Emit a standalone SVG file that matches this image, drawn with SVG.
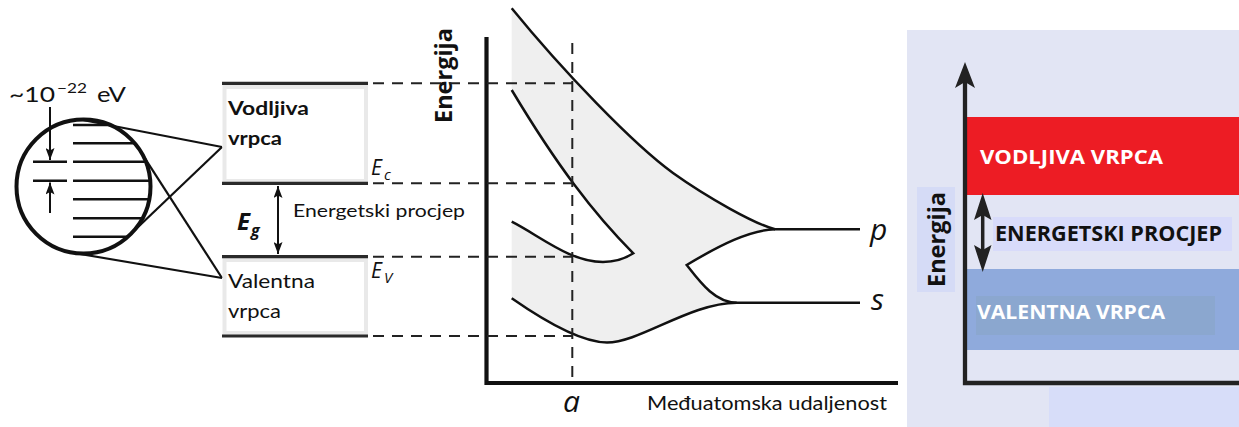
<svg xmlns="http://www.w3.org/2000/svg" width="1239" height="427" viewBox="0 0 1239 427">
<defs>
<style>
.ln{stroke:#111;fill:none;stroke-width:2.5}
.band{stroke:#2a2a2a;stroke-width:3.2}
.box{fill:#fff;stroke:#e9e9e9;stroke-width:4}
.dash{stroke:#222;stroke-width:2;stroke-dasharray:11 8;fill:none}
.cal{font-family:Lato,"Liberation Sans",sans-serif;fill:#111}
.it{font-family:"Open Sans","Liberation Sans",sans-serif;font-style:italic;fill:#111}
.ob{font-family:"Open Sans","Liberation Sans",sans-serif;font-weight:bold}
</style>
<marker id="ah" viewBox="0 0 12 9" refX="12" refY="4.5" markerWidth="12" markerHeight="9" markerUnits="userSpaceOnUse" orient="auto-start-reverse">
<path d="M0,0 L12,4.5 L0,9 L2.5,4.5 z" fill="#111"/>
</marker>
<clipPath id="circ"><circle cx="83.5" cy="186.5" r="66"/></clipPath>
</defs>
<rect width="1239" height="427" fill="#fff"/>

<!-- left magnifier -->
<g id="magnifier">
<text class="cal" x="9" y="102" font-size="21" textLength="46" lengthAdjust="spacingAndGlyphs">~10</text>
<text class="cal" x="57" y="93" font-size="14" textLength="30" lengthAdjust="spacingAndGlyphs">−22</text>
<text class="cal" x="97" y="102" font-size="21" textLength="29" lengthAdjust="spacingAndGlyphs">eV</text>
<g clip-path="url(#circ)" stroke="#111" stroke-width="2.5">
<line x1="73" y1="125" x2="160" y2="125"/>
<line x1="73" y1="143.3" x2="160" y2="143.3"/>
<line x1="73" y1="161.7" x2="160" y2="161.7"/>
<line x1="73" y1="180.7" x2="160" y2="180.7"/>
<line x1="73" y1="199.3" x2="160" y2="199.3"/>
<line x1="73" y1="218.3" x2="160" y2="218.3"/>
<line x1="73" y1="236.7" x2="160" y2="236.7"/>
<line x1="33" y1="161.7" x2="67" y2="161.7"/>
<line x1="33" y1="180.7" x2="67" y2="180.7"/>
</g>
<line x1="50" y1="107" x2="50" y2="160" stroke="#111" stroke-width="2" marker-end="url(#ah)"/>
<line x1="50" y1="213" x2="50" y2="182.5" stroke="#111" stroke-width="2" marker-end="url(#ah)"/>
<circle cx="83.5" cy="186.5" r="67" fill="none" stroke="#111" stroke-width="4"/>
<g stroke="#111" stroke-width="2.2" fill="none">
<line x1="80" y1="119.5" x2="222" y2="147"/>
<line x1="129.7" y1="235" x2="222" y2="147"/>
<line x1="74" y1="253" x2="222" y2="278"/>
<line x1="139.8" y1="150.3" x2="222" y2="278"/>
</g>
</g>

<!-- band diagram -->
<g id="conduction-band">
<rect class="box" x="224.5" y="87" width="141.5" height="94"/>
<line class="band" x1="222" y1="83.3" x2="368" y2="83.3"/>
<text class="cal" x="228" y="115" font-size="19" font-weight="bold" textLength="81" lengthAdjust="spacingAndGlyphs">Vodljiva</text>
<text class="cal" x="228" y="145" font-size="19" font-weight="bold" textLength="54" lengthAdjust="spacingAndGlyphs">vrpca</text>
</g>
<g id="valence-band">
<rect class="box" x="224.5" y="260" width="141.5" height="73"/>
<line class="band" x1="222" y1="256.7" x2="368" y2="256.7"/>
<line class="band" x1="222" y1="336" x2="368" y2="336"/>
<text class="cal" x="228" y="288" font-size="19" textLength="87" lengthAdjust="spacingAndGlyphs">Valentna</text>
<text class="cal" x="228" y="318" font-size="19" textLength="53" lengthAdjust="spacingAndGlyphs">vrpca</text>
</g>
<g id="gap">
<line class="band" x1="222" y1="183.3" x2="368" y2="183.3"/>
<line x1="278" y1="186" x2="278" y2="254" stroke="#111" stroke-width="2" marker-start="url(#ah)" marker-end="url(#ah)"/>
<text class="ob" x="237" y="230" font-size="24" font-style="italic" fill="#111">E</text>
<text class="ob" x="251" y="236" font-size="16" font-style="italic" fill="#111">g</text>
<text class="cal" x="293" y="217" font-size="18" textLength="172" lengthAdjust="spacingAndGlyphs">Energetski procjep</text>
<text class="it" x="371" y="175" font-size="21">E</text>
<text class="it" x="384" y="180" font-size="15">c</text>
<text class="it" x="371" y="278" font-size="21">E</text>
<text class="it" x="384" y="283" font-size="15">V</text>
</g>

<!-- middle graph -->
<g id="graph">
<path d="M511.7,8.3 C562,70 633,144 673,173 C708,198 755,224 775,229.3 C750,230 720,245 686.7,265 C700,282 715,302.7 736.7,302.7 C690,303 640,342.5 607,342.5 C580,342.5 540,318 511.7,298.3 L511.7,221.7 C540,236 570,262 603,262 Q620,262 633.3,253.3 C593.3,213.3 556.7,165 511.7,90 Z" fill="#efefef" stroke="none"/>
<path class="ln" d="M511.7,8.3 C562,70 633,144 673,173 C708,198 755,224 775,229.3 L860,229.3"/>
<path class="ln" d="M775,229.3 C750,230 720,245 686.7,265 C700,282 715,302.7 736.7,302.7 L860,302.7"/>
<path class="ln" d="M736.7,302.7 C690,303 640,342.5 607,342.5 C580,342.5 540,318 511.7,298.3"/>
<path class="ln" d="M511.7,221.7 C540,236 570,262 603,262 Q620,262 633.3,253.3 C593.3,213.3 556.7,165 511.7,90"/>
<path d="M486.5,37 L486.5,383 L898,383" fill="none" stroke="#111" stroke-width="4.2"/>
<text class="ob" transform="translate(451.5,123) rotate(-90)" font-size="23" fill="#111" textLength="95" lengthAdjust="spacingAndGlyphs">Energija</text>
<text class="it" x="563" y="411.5" font-size="30">a</text>
<text class="it" x="870" y="240" font-size="30">p</text>
<text class="it" x="871" y="310" font-size="30">s</text>
<text class="cal" x="647" y="410" font-size="18.5" textLength="240" lengthAdjust="spacingAndGlyphs">Međuatomska udaljenost</text>
</g>

<g id="connectors">
<line class="dash" x1="373" y1="83.3" x2="572.3" y2="83.3"/>
<line class="dash" x1="373" y1="183.3" x2="572.3" y2="183.3"/>
<line class="dash" x1="373" y1="256.7" x2="572.3" y2="256.7"/>
<line class="dash" x1="373" y1="336" x2="572.3" y2="336"/>
<line class="dash" x1="572.3" y1="43" x2="572.3" y2="383"/>
</g>

<!-- right panel -->
<g id="simple-band-diagram">
<rect x="907" y="30" width="332" height="397" fill="#e2e5f4"/>
<rect x="1049" y="387" width="190" height="40" fill="#d7ddf9"/>
<rect x="967" y="117" width="272" height="78" fill="#ed1c24"/>
<rect x="967" y="269" width="272" height="81" fill="#8faadc"/>
<rect x="976" y="296" width="239" height="39" fill="#8ba7cf"/>
<rect x="993" y="217" width="239" height="34" fill="#d8dbfa"/>
<rect x="917" y="187" width="38" height="105" fill="#d5dbf6"/>
<path d="M965,72 L965,383 L1239,383" fill="none" stroke="#222" stroke-width="4.3"/>
<path d="M965,62 L975,88 L965,82 L955,88 Z" fill="#222"/>
<line x1="982.7" y1="205" x2="982.7" y2="260" stroke="#222" stroke-width="3.5"/>
<path d="M982.7,193 L991.5,220 L982.7,215 L974,220 Z" fill="#222"/>
<path d="M982.7,272 L991.5,245 L982.7,250 L974,245 Z" fill="#222"/>
<text class="ob" x="980" y="164" font-size="20" fill="#fff" textLength="183" lengthAdjust="spacingAndGlyphs">VODLJIVA VRPCA</text>
<text class="ob" x="995" y="241" font-size="22" fill="#111" textLength="227" lengthAdjust="spacingAndGlyphs">ENERGETSKI PROCJEP</text>
<text class="ob" x="977" y="319" font-size="20" fill="#fff" textLength="188" lengthAdjust="spacingAndGlyphs">VALENTNA VRPCA</text>
<text class="ob" transform="translate(945,287) rotate(-90)" font-size="24" fill="#111" textLength="95" lengthAdjust="spacingAndGlyphs">Energija</text>
</g>
</svg>
